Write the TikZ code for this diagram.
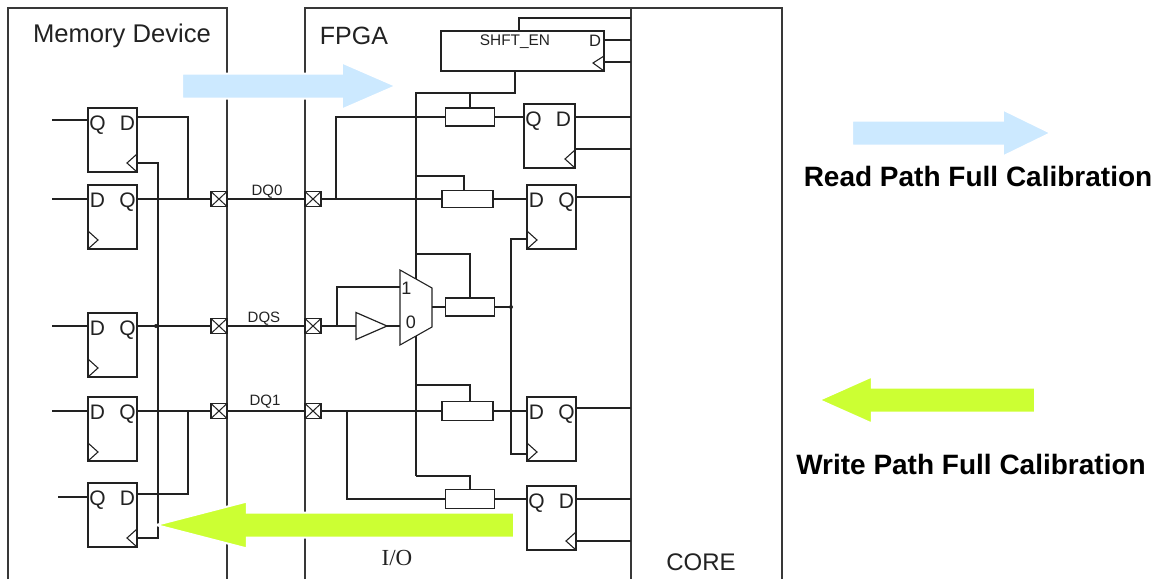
\documentclass[tikz,border=0pt]{standalone}
\usepackage{fontspec}
\setmainfont{Liberation Sans}
\newfontfamily\iofont{Liberation Serif}
\usepackage{xcolor}
\usepackage{tikz}
\usetikzlibrary{positioning,shapes.geometric,shapes.arrows}
\definecolor{ink}{HTML}{222222}
\definecolor{rdblue}{HTML}{CCE9FF}
\definecolor{wrgreen}{HTML}{CCFF33}
\tikzset{
  wire/.style={line width=1.1pt,color=ink},
  wall/.style={line width=1.3pt,color=ink!90},
  ffbox/.style={draw=ink,line width=1.2pt,anchor=north west,minimum height=64pt,inner sep=0pt,outer sep=0pt},
  lttr/.style={font=\fontsize{21}{21}\selectfont,color=ink,inner sep=0pt,text height=15pt,text depth=0pt},
  rbox/.style={draw=ink,line width=1.2pt,fill=white,inner sep=0pt,outer sep=0pt},
  pad/.style={draw=ink,line width=1.2pt,fill=white,inner sep=0pt,outer sep=0pt,minimum width=16pt,minimum height=15pt,
    path picture={\draw[line width=1pt,color=ink] (path picture bounding box.north west) -- (path picture bounding box.south east)
      (path picture bounding box.north east) -- (path picture bounding box.south west);}},
  sig/.style={font=\fontsize{15}{15}\selectfont,color=ink,inner sep=0pt},
  ttl/.style={font=\fontsize{25}{25}\selectfont,color=ink,inner sep=0pt},
  leg/.style={font=\bfseries\fontsize{28}{28}\selectfont,color=black,inner sep=0pt},
  buftri/.style={draw=ink,line width=1.2pt,shape=isosceles triangle,isosceles triangle stretches,inner sep=0pt,outer sep=0pt,minimum width=27pt,minimum height=31pt},
  bigarr/.style={shape=single arrow,draw=white,line width=2pt,inner sep=0pt,outer sep=0pt,anchor=tip,text height=23pt,text depth=0pt,text width=0pt,single arrow head extend=11pt},
  rdarr/.style={bigarr,fill=rdblue},
  wrarr/.style={bigarr,shape border rotate=180,fill=wrgreen}}
\begin{document}
\begin{tikzpicture}[x=1pt,y=-1pt]
\useasboundingbox (0,0) rectangle (1163,579);
% outlines
\draw[wall] (8,579) |- (227,8) -- (227,579);
\draw[wall] (305,579) |- (782,8) -- (782,579);
\draw[wall] (631,8) -- (631,579);
\node[ttl,font=\fontsize{25.6}{25.6}\selectfont] (memT) at (122,36) {Memory Device};
\node[ttl] (fpgaT) at (354,36) {FPGA};
\node[ttl,font=\fontsize{24}{24}\selectfont] (coreT) at (701,562) {CORE};
\node[font=\iofont\fontsize{23}{23}\selectfont,color=ink,inner sep=0pt] (ioT) at (397,558) {I/O};
% flip-flops
\foreach \nm/\xx/\yy/\ww/\la/\lb/\ly/\ry in {mA/88/108/49/Q/D/120/117,mB/88/185/49/D/Q/199/199,mC/88/313/49/D/Q/326/326,
  mD/88/397/49/D/Q/411/411,mE/88/483/49/Q/D/497/494,rA/524/104/51/Q/D/117/117,rB/527/185/49/D/Q/199/197,
  rC/527/397/49/D/Q/411/408,rD/527/486/49/Q/D/499/499}{
  \node[ffbox,minimum width=\ww pt] (\nm) at (\xx,\yy) {};
  \node[lttr] (\nm-x) at ({\xx+9.5},{\yy+15}) {\la};
  \node[lttr] (\nm-y) at ({\xx+39.5},{\yy+15}) {\lb};
  \coordinate (\nm-l) at (\xx,\ly);
  \coordinate (\nm-r) at ({\xx+\ww},\ry);
}
% clock marks
\foreach \nm in {mA,mE,rA,rD}{\draw[wire] (\nm.south east) -- ++(-10,-9) -- ++(10,-9);}
\foreach \nm in {mB,mC,mD,rB,rC}{\draw[wire] (\nm.south west) -- ++(10,-9) -- ++(-10,-9);}
% pads
\foreach \nm/\xx/\yy in {pmA/219/199,pmB/219/326,pmC/219/411,pfA/313/199,pfB/313/326,pfC/313/411}{
  \node[pad] (\nm) at (\xx,\yy) {};
}
\node[sig] (dqa) at (267,192) {DQ0};
\node[sig] (dqs) at (264,319) {DQS};
\node[sig] (dqb) at (265,402) {DQ1};
% free ends on the left
\foreach \nm/\xx in {mA/52,mB/52,mC/52,mD/52,mE/58}{\coordinate (\nm-f) at (\xx,0 |- \nm-l); \draw[wire] (\nm-f) -- (\nm-l);}
% memory side
\coordinate (jA) at (188,199);
\coordinate (jB) at (188,411);
\coordinate (ckT) at (158,163);
\coordinate (ckB) at (158,538);
\coordinate (ckM) at (156,326);
\draw[wire] (mB-r) -- (pmA);
\draw[wire] (mC-r) -- (pmB);
\draw[wire] (mD-r) -- (pmC);
\draw[wire] (mA-r) -| (jA);
\draw[wire] (mE-r) -| (jB);
\draw[wire] (mA.east |- ckT) -- (ckT) -- (ckB) -- (mE.east |- ckB);
\fill[ink] (ckM) circle (2pt);
\draw[wire] (pmA) -- (pfA);
\draw[wire] (pmB) -- (pfB);
\draw[wire] (pmC) -- (pfC);
% shifter
\node[rbox,minimum width=163pt,minimum height=40pt] (shft) at (522.5,51) {};
\node[sig,font=\fontsize{15.4}{15.4}\selectfont] (shftT) at (515,42) {SHFT\_EN};
\node[lttr,font=\fontsize{16.5}{16.5}\selectfont,text height=12pt] (shftD) at (595,40) {D};
\draw[wire] (shft.south east) -- ++(-11,-8) -- ++(11,-7);
\coordinate (shIn) at (519,18);
\coordinate (shD) at (604,40);
\coordinate (shC) at (604,62);
\draw[wire] (519,31) -- (shIn) -- (shIn -| 631,0);
\draw[wire] (shD) -- (shD -| 631,0);
\draw[wire] (shC) -- (shC -| 631,0);
% delay cells
\node[rbox,minimum width=49pt,minimum height=18pt] (rsA) at (470,117) {};
\node[rbox,minimum width=51pt,minimum height=17pt] (rsB) at (467.5,199) {};
\node[rbox,minimum width=49pt,minimum height=18pt] (rsC) at (470,307) {};
\node[rbox,minimum width=51pt,minimum height=19pt] (rsD) at (467.5,411) {};
\node[rbox,minimum width=49pt,minimum height=19pt] (rsE) at (470,499) {};
% mux and buffer
\draw[wire,fill=white] (400,270) coordinate (muxA) -- (432,288) -- (432,327) -- (400,345) -- cycle;
\coordinate (muxI) at (400,287);
\coordinate (muxJ) at (400,326);
\coordinate (muxO) at (432,307);
\coordinate (muxT) at (416,279);
\coordinate (muxB) at (416,336);
\node[lttr,font=\fontsize{18}{18}\selectfont,text height=13pt] (muxP) at (406.5,288) {1};
\node[lttr,font=\fontsize{18}{18}\selectfont,text height=13pt] (muxQ) at (411,322) {0};
\node[buftri,anchor=lower side] (bf) at (356,326) {};
% fpga side
\coordinate (trk) at (416,93);
\coordinate (brA) at (416,176);
\coordinate (brB) at (416,254);
\coordinate (brC) at (416,385);
\coordinate (brD) at (416,476);
\coordinate (inA) at (336,199);
\coordinate (inB) at (337,287);
\coordinate (inC) at (347,411);
\coordinate (ckV) at (511,307);
\draw[wire] (515,71) |- (trk) -- (muxT);
\draw[wire] (rsA.north) -- (rsA.north |- trk);
\draw[wire] (pfA) -- (rsB);
\draw[wire] (inA) -- (inA |- rsA) -- (rsA);
\draw[wire] (rsA) -- (rA-l);
\draw[wire] (rsB) -- (rB-l);
\draw[wire] (brA) -| (464,191);
\draw[wire] (brB) -| (rsC.north);
\draw[wire] (pfB) -- (bf.lower side);
\draw[wire] (inB |- pfB) -- (inB) -- (muxI);
\draw[wire] (bf.apex) -- (muxJ);
\draw[wire] (muxO) -- (rsC);
\draw[wire] (rsC) -- (ckV);
\fill[ink] (ckV) circle (2pt);
\draw[wire] (muxB) -- (brD);
\draw[wire] (brC) -| (rsE.north |- rsD.north);
\draw[wire] (brD) -| (rsE.north);
\draw[wire] (pfC) -- (rsD);
\draw[wire] (rsD) -- (rC-l);
\draw[wire] (inC) |- (rsE);
\draw[wire] (rsE) -- (rD-l);
\draw[wire] (rB.west |- 0,239) -- (511,239) -- (511,454) -- (rC.west |- 0,454);
% core side
\draw[wire] (rA-r) -- (rA-r -| 631,0);
\draw[wire] (rB-r) -- (rB-r -| 631,0);
\draw[wire] (rC-r) -- (rC-r -| 631,0);
\draw[wire] (rD-r) -- (rD-r -| 631,0);
\draw[wire] (rA.east |- 0,149) -- (631,149);
\draw[wire] (rD.east |- 0,541) -- (631,541);
% big arrows
\node[rdarr,minimum height=214pt,single arrow tip angle=47] (rdA) at (396,86) {};
\node[wrarr,minimum height=358pt,single arrow tip angle=29] (wrA) at (156,525) {};
\node[rdarr,minimum height=199pt,single arrow tip angle=52] (rdK) at (1051,133) {};
\node[wrarr,minimum height=216pt,single arrow tip angle=48] (wrK) at (819,400) {};
\node[leg] (rdT) at (978,176) {Read Path Full Calibration};
\node[leg] (wrT) at (971,464) {Write Path Full Calibration};
\end{tikzpicture}
\end{document}
